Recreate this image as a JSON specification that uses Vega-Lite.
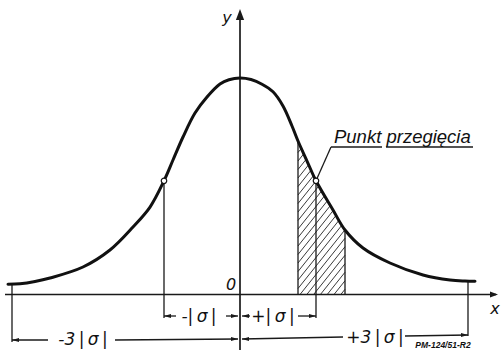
{
  "$schema": "https://vega.github.io/schema/vega-lite/v6.json",
  "width": 502,
  "height": 354,
  "autosize": {"type": "fit", "contains": "padding"},
  "padding": 0,
  "background": "white",
  "config": {"view": {"stroke": null}},
  "datasets": {
    "curve": [
      {"x": -3.0526, "y": 0.0471},
      {"x": -2.8947, "y": 0.0494},
      {"x": -2.6974, "y": 0.06},
      {"x": -2.5, "y": 0.0762},
      {"x": -2.066, "y": 0.127},
      {"x": -1.711, "y": 0.2055},
      {"x": -1.408, "y": 0.3118},
      {"x": -1.184, "y": 0.404},
      {"x": -1.0, "y": 0.5252},
      {"x": -0.8816, "y": 0.6212},
      {"x": -0.75, "y": 0.7275},
      {"x": -0.5921, "y": 0.8383},
      {"x": -0.4342, "y": 0.9122},
      {"x": -0.2632, "y": 0.9723},
      {"x": -0.1447, "y": 0.992},
      {"x": 0, "y": 1.0},
      {"x": 0.1447, "y": 0.993},
      {"x": 0.2895, "y": 0.9714},
      {"x": 0.4342, "y": 0.9363},
      {"x": 0.5658, "y": 0.8707},
      {"x": 0.6842, "y": 0.7783},
      {"x": 0.7632, "y": 0.709},
      {"x": 0.8816, "y": 0.6166},
      {"x": 1.0, "y": 0.5252},
      {"x": 1.2237, "y": 0.3903},
      {"x": 1.3816, "y": 0.2979},
      {"x": 1.6184, "y": 0.2148},
      {"x": 1.9737, "y": 0.1455},
      {"x": 2.4079, "y": 0.0901},
      {"x": 2.7632, "y": 0.067},
      {"x": 2.9605, "y": 0.0624},
      {"x": 3.0921, "y": 0.0614}
    ],
    "hatch": [
      {"x": 1.3263, "y": 0, "x2": 1.3816, "y2": 0.0242},
      {"x": 1.2368, "y": 0, "x2": 1.3816, "y2": 0.0635},
      {"x": 1.1474, "y": 0, "x2": 1.3816, "y2": 0.1028},
      {"x": 1.0579, "y": 0, "x2": 1.3816, "y2": 0.142},
      {"x": 0.9684, "y": 0, "x2": 1.3816, "y2": 0.1813},
      {"x": 0.8789, "y": 0, "x2": 1.3816, "y2": 0.2206},
      {"x": 0.7895, "y": 0, "x2": 1.3816, "y2": 0.2598},
      {"x": 0.7632, "y": 0.0277, "x2": 1.3816, "y2": 0.2991},
      {"x": 0.7632, "y": 0.067, "x2": 1.3816, "y2": 0.3383},
      {"x": 0.7632, "y": 0.1062, "x2": 1.3816, "y2": 0.3776},
      {"x": 0.7632, "y": 0.1455, "x2": 1.3816, "y2": 0.4169},
      {"x": 0.7632, "y": 0.1848, "x2": 1.3816, "y2": 0.4561},
      {"x": 0.7632, "y": 0.224, "x2": 1.3816, "y2": 0.4954},
      {"x": 0.7632, "y": 0.2633, "x2": 1.3816, "y2": 0.5346},
      {"x": 0.7632, "y": 0.3025, "x2": 1.3816, "y2": 0.5739},
      {"x": 0.7632, "y": 0.3418, "x2": 1.3816, "y2": 0.6132},
      {"x": 0.7632, "y": 0.3811, "x2": 1.3816, "y2": 0.6524},
      {"x": 0.7632, "y": 0.4203, "x2": 1.3816, "y2": 0.6917},
      {"x": 0.7632, "y": 0.4596, "x2": 1.3316, "y2": 0.709},
      {"x": 0.7632, "y": 0.4988, "x2": 1.2421, "y2": 0.709},
      {"x": 0.7632, "y": 0.5381, "x2": 1.1526, "y2": 0.709},
      {"x": 0.7632, "y": 0.5774, "x2": 1.0632, "y2": 0.709},
      {"x": 0.7632, "y": 0.6166, "x2": 0.9737, "y2": 0.709},
      {"x": 0.7632, "y": 0.6559, "x2": 0.8842, "y2": 0.709},
      {"x": 0.7632, "y": 0.6952, "x2": 0.7947, "y2": 0.709}
    ],
    "guides": [
      {"x": -3, "y": 0.0476, "x2": -3, "y2": -0.2194},
      {"x": 3, "y": 0.062, "x2": 3, "y2": -0.1917},
      {"x": -1, "y": 0.5252, "x2": -1, "y2": -0.1085},
      {"x": 1, "y": 0.5252, "x2": 1, "y2": -0.1085},
      {"x": 0.7632, "y": 0.709, "x2": 0.7632, "y2": 0},
      {"x": 1.3816, "y": 0.2979, "x2": 1.3816, "y2": 0},
      {"x": -1, "y": -0.0993, "x2": -0.8421, "y2": -0.0993},
      {"x": -0.1842, "y": -0.0993, "x2": -0.0263, "y2": -0.0993},
      {"x": 0.0263, "y": -0.0993, "x2": 0.1316, "y2": -0.0993},
      {"x": 0.7632, "y": -0.0993, "x2": 1, "y2": -0.0993},
      {"x": -3, "y": -0.2102, "x2": -2.5263, "y2": -0.2102},
      {"x": -1.6447, "y": -0.2102, "x2": -0.0263, "y2": -0.2056},
      {"x": 0.0263, "y": -0.2056, "x2": 1.3553, "y2": -0.1963},
      {"x": 2.1711, "y": -0.1917, "x2": 3, "y2": -0.1871},
      {"x": 1.1974, "y": 0.6813, "x2": 1.0, "y2": 0.5252},
      {"x": 1.1974, "y": 0.6813, "x2": 1.8684, "y2": 0.6813},
      {"x": 1.9211, "y": 0.6813, "x2": 3.0658, "y2": 0.6813}
    ],
    "axes": [
      {"x": -3.0921, "y": 0, "x2": 3.37, "y2": 0},
      {"x": 0, "y": 1.29, "x2": 0, "y2": -0.2564}
    ],
    "inflection": [
      {"x": -1, "y": 0.5252},
      {"x": 1, "y": 0.5252}
    ],
    "arrows": [
      {"x": -0.0263, "y": -0.0993, "dir": "right"},
      {"x": 1.0, "y": -0.0993, "dir": "right"},
      {"x": -0.0263, "y": -0.2056, "dir": "right"},
      {"x": 3.0, "y": -0.1871, "dir": "right"},
      {"x": -1.0, "y": -0.0993, "dir": "left"},
      {"x": 0.0263, "y": -0.0993, "dir": "left"},
      {"x": -3.0, "y": -0.2102, "dir": "left"},
      {"x": 0.0263, "y": -0.2056, "dir": "left"}
    ],
    "axisArrows": [
      {"x": 3.3947, "y": 0, "dir": "right"},
      {"x": 0, "y": 1.3187, "dir": "up"}
    ],
    "labels": [
      {"x": -0.5395, "y": -0.1039, "text": "-|\u2009σ\u2009|", "role": "dim"},
      {"x": 0.4342, "y": -0.1039, "text": "+|\u2009σ\u2009|", "role": "dim"},
      {"x": -2.0658, "y": -0.2102, "text": "-3\u2009|\u2009σ\u2009|", "role": "dim"},
      {"x": 1.7763, "y": -0.2032, "text": "+3\u2009|\u2009σ\u2009|", "role": "dim"},
      {"x": -0.1184, "y": 0.0439, "text": "0", "role": "axis"},
      {"x": -0.1711, "y": 1.2771, "text": "y", "role": "axis"},
      {"x": 3.3553, "y": -0.067, "text": "x", "role": "axis"},
      {"x": 2.6711, "y": -0.2333, "text": "PM-124/51-R2", "role": "code"},
      {"x": 1.2368, "y": 0.6998, "text": "Punkt przegięcia", "role": "note"}
    ]
  },
  "encoding": {
    "x": {"field": "x", "type": "quantitative", "scale": {"domain": [-3.1579, 3.4474], "nice": false, "zero": false}, "axis": null},
    "y": {"field": "y", "type": "quantitative", "scale": {"domain": [-0.2748, 1.3603], "nice": false, "zero": false}, "axis": null}
  },
  "layer": [
    {
      "data": {"name": "hatch"},
      "mark": {"type": "rule", "strokeWidth": 0.9, "color": "#222222"},
      "encoding": {"x2": {"field": "x2"}, "y2": {"field": "y2"}}
    },
    {
      "data": {"name": "curve"},
      "mark": {"type": "area", "fill": "white", "opacity": 1, "interpolate": "catmull-rom"},
      "encoding": {"y2": {"datum": 0.75}}
    },
    {
      "data": {"name": "guides"},
      "mark": {"type": "rule", "strokeWidth": 1.3, "color": "#1a1a1a"},
      "encoding": {"x2": {"field": "x2"}, "y2": {"field": "y2"}}
    },
    {
      "data": {"name": "axes"},
      "mark": {"type": "rule", "strokeWidth": 1.7, "color": "#1a1a1a"},
      "encoding": {"x2": {"field": "x2"}, "y2": {"field": "y2"}}
    },
    {
      "data": {"name": "curve"},
      "mark": {"type": "line", "strokeWidth": 3, "color": "#111111", "interpolate": "catmull-rom", "strokeCap": "round"},
      "encoding": {}
    },
    {
      "data": {"name": "inflection"},
      "mark": {"type": "point", "shape": "circle", "size": 30, "filled": true, "fill": "white", "stroke": "#111111", "strokeWidth": 1.2, "opacity": 1}
    },
    {
      "data": {"name": "arrows"},
      "transform": [{"filter": "datum.dir == 'right'"}],
      "mark": {"type": "point", "shape": "M0,0L-2,-0.6L-2,0.6Z", "size": 49, "filled": true, "color": "#1a1a1a", "opacity": 1, "angle": 0}
    },
    {
      "data": {"name": "arrows"},
      "transform": [{"filter": "datum.dir == 'left'"}],
      "mark": {"type": "point", "shape": "M0,0L-2,-0.6L-2,0.6Z", "size": 49, "filled": true, "color": "#1a1a1a", "opacity": 1, "angle": 180}
    },
    {
      "data": {"name": "axisArrows"},
      "transform": [{"filter": "datum.dir == 'right'"}],
      "mark": {"type": "point", "shape": "M0,0L-2,-0.75L-2,0.75Z", "size": 64, "filled": true, "color": "#1a1a1a", "opacity": 1, "angle": 0}
    },
    {
      "data": {"name": "axisArrows"},
      "transform": [{"filter": "datum.dir == 'up'"}],
      "mark": {"type": "point", "shape": "M0,0L-2,-0.75L-2,0.75Z", "size": 121, "filled": true, "color": "#1a1a1a", "opacity": 1, "angle": 270}
    },
    {
      "data": {"name": "labels"},
      "transform": [{"filter": "datum.role == 'dim'"}],
      "mark": {"type": "text", "font": "DejaVu Sans", "fontSize": 17, "fontStyle": "italic", "align": "center", "baseline": "middle", "color": "#111111"},
      "encoding": {"text": {"field": "text"}}
    },
    {
      "data": {"name": "labels"},
      "transform": [{"filter": "datum.role == 'axis'"}],
      "mark": {"type": "text", "font": "DejaVu Sans", "fontSize": 16, "fontStyle": "italic", "align": "center", "baseline": "middle", "color": "#111111"},
      "encoding": {"text": {"field": "text"}}
    },
    {
      "data": {"name": "labels"},
      "transform": [{"filter": "datum.role == 'code'"}],
      "mark": {"type": "text", "font": "Liberation Sans", "fontSize": 8.5, "fontStyle": "italic", "fontWeight": "bold", "align": "center", "baseline": "middle", "color": "#111111"},
      "encoding": {"text": {"field": "text"}}
    },
    {
      "data": {"name": "labels"},
      "transform": [{"filter": "datum.role == 'note'"}],
      "mark": {"type": "text", "font": "Liberation Sans", "fontSize": 18.5, "fontStyle": "italic", "align": "left", "baseline": "alphabetic", "color": "#111111"},
      "encoding": {"text": {"field": "text"}}
    }
  ]
}
